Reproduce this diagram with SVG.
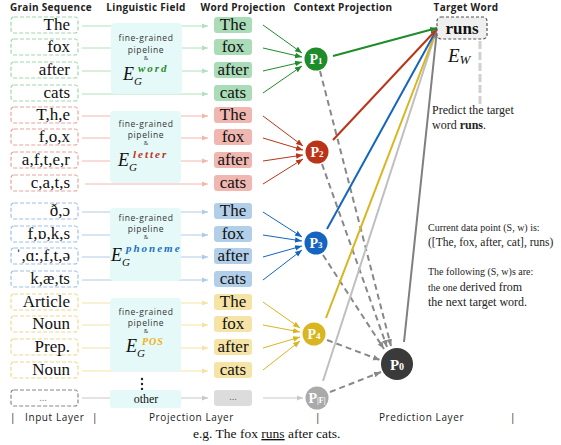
<svg xmlns="http://www.w3.org/2000/svg" width="561" height="445" viewBox="0 0 561 445">
<style>
.hdr{font-family:"Open Sans","DejaVu Sans",sans-serif;font-weight:700;font-size:10px;letter-spacing:0.3px;fill:#222;text-anchor:middle}
.lay{font-family:"Open Sans","DejaVu Sans",sans-serif;font-size:10px;letter-spacing:0.6px;fill:#222}
.gs{font-family:"Liberation Serif",serif;font-size:17px;fill:#111;text-anchor:end}
.wp{font-family:"Liberation Serif",serif;font-size:17px;fill:#111;text-anchor:middle}
.gb{fill:#fff;stroke-width:1.2;stroke-dasharray:4 2}
.wb{stroke:none}
.pan{fill:#e6f9f9}
.pt{font-family:"Open Sans","DejaVu Sans",sans-serif;font-size:8.5px;letter-spacing:0.6px;fill:#333;text-anchor:middle}
.amp{font-family:"Open Sans","DejaVu Sans",sans-serif;font-size:6px;fill:#333;text-anchor:middle}
.E{font-family:"Liberation Serif",serif;font-style:italic;font-size:18px;fill:#111}
.G{font-size:11px}
.sup{font-weight:700;font-size:11px;letter-spacing:2px}
.pl{font-family:"Liberation Serif",serif;font-weight:700;font-size:14px;fill:#fff;text-anchor:middle}
.ps{font-size:9px}
.note{font-family:"Liberation Serif",serif;fill:#222}
.thin{fill:none;stroke-width:1}
.thick{fill:none;stroke-width:2}
.dash{fill:none;stroke:#888;stroke-width:2;stroke-dasharray:6 4}
</style>
<defs>
<marker id="aLg" viewBox="0 0 10 10" refX="10" refY="5" markerWidth="6" markerHeight="6" markerUnits="userSpaceOnUse" orient="auto"><path d="M0,1 L10,5 L0,9 z" fill="#b4e0bd"/></marker>
<marker id="aLr" viewBox="0 0 10 10" refX="10" refY="5" markerWidth="6" markerHeight="6" markerUnits="userSpaceOnUse" orient="auto"><path d="M0,1 L10,5 L0,9 z" fill="#f2b8b0"/></marker>
<marker id="aLb" viewBox="0 0 10 10" refX="10" refY="5" markerWidth="6" markerHeight="6" markerUnits="userSpaceOnUse" orient="auto"><path d="M0,1 L10,5 L0,9 z" fill="#b0cbe8"/></marker>
<marker id="aLy" viewBox="0 0 10 10" refX="10" refY="5" markerWidth="6" markerHeight="6" markerUnits="userSpaceOnUse" orient="auto"><path d="M0,1 L10,5 L0,9 z" fill="#f5e3a5"/></marker>
<marker id="aLk" viewBox="0 0 10 10" refX="10" refY="5" markerWidth="6" markerHeight="6" markerUnits="userSpaceOnUse" orient="auto"><path d="M0,1 L10,5 L0,9 z" fill="#c8c8c8"/></marker>
<marker id="ag" viewBox="0 0 10 10" refX="10" refY="5" markerWidth="7" markerHeight="7" markerUnits="userSpaceOnUse" orient="auto"><path d="M0,1 L10,5 L0,9 z" fill="#1e8c2a"/></marker>
<marker id="ar" viewBox="0 0 10 10" refX="10" refY="5" markerWidth="7" markerHeight="7" markerUnits="userSpaceOnUse" orient="auto"><path d="M0,1 L10,5 L0,9 z" fill="#bb3418"/></marker>
<marker id="ab" viewBox="0 0 10 10" refX="10" refY="5" markerWidth="7" markerHeight="7" markerUnits="userSpaceOnUse" orient="auto"><path d="M0,1 L10,5 L0,9 z" fill="#1565c0"/></marker>
<marker id="ay" viewBox="0 0 10 10" refX="10" refY="5" markerWidth="7" markerHeight="7" markerUnits="userSpaceOnUse" orient="auto"><path d="M0,1 L10,5 L0,9 z" fill="#d9b51f"/></marker>
<marker id="ak" viewBox="0 0 10 10" refX="10" refY="5" markerWidth="7" markerHeight="7" markerUnits="userSpaceOnUse" orient="auto"><path d="M0,1 L10,5 L0,9 z" fill="#bfbfbf"/></marker>
<marker id="ad" viewBox="0 0 10 10" refX="10" refY="5" markerWidth="8" markerHeight="8" markerUnits="userSpaceOnUse" orient="auto"><path d="M0,1 L10,5 L0,9 z" fill="#7f7f7f"/></marker>
<marker id="adsh" viewBox="0 0 10 10" refX="10" refY="5" markerWidth="7" markerHeight="7" markerUnits="userSpaceOnUse" orient="auto"><path d="M0,1 L10,5 L0,9 z" fill="#888"/></marker>
</defs>

<g id="headers">
<text class="hdr" x="51" y="11">Grain Sequence</text>
<text class="hdr" x="146" y="11">Linguistic Field</text>
<text class="hdr" x="243" y="11">Word Projection</text>
<text class="hdr" x="343" y="11">Context Projection</text>
<text class="hdr" x="466" y="11">Target Word</text>
</g>

<g id="connectors">
<g class="thin" stroke="#b4e0bd" marker-end="url(#aLg)">
<line x1="82" y1="26" x2="208" y2="26"/><line x1="82" y1="48" x2="208" y2="48"/><line x1="82" y1="71" x2="208" y2="71"/><line x1="82" y1="94" x2="208" y2="94"/>
</g>
<g class="thin" stroke="#f2b8b0" marker-end="url(#aLr)">
<line x1="82" y1="116" x2="208" y2="116"/><line x1="82" y1="138" x2="208" y2="138"/><line x1="82" y1="161" x2="208" y2="161"/><line x1="85" y1="184" x2="208" y2="184"/>
</g>
<g class="thin" stroke="#b0cbe8" marker-end="url(#aLb)">
<line x1="82" y1="212" x2="208" y2="212"/><line x1="82" y1="235" x2="208" y2="235"/><line x1="82" y1="257" x2="208" y2="257"/><line x1="82" y1="280" x2="208" y2="280"/>
</g>
<g class="thin" stroke="#f5e3a5" marker-end="url(#aLy)">
<line x1="82" y1="303" x2="208" y2="303"/><line x1="82" y1="325" x2="208" y2="325"/><line x1="82" y1="348" x2="208" y2="348"/><line x1="82" y1="371" x2="208" y2="371"/>
</g>
<g class="thin" stroke="#c8c8c8" marker-end="url(#aLk)">
<line x1="82" y1="398" x2="208" y2="398"/>
</g>
<g class="thin" stroke="#1e8c2a" marker-end="url(#ag)">
<line x1="263" y1="25" x2="302" y2="53"/><line x1="263" y1="48" x2="302" y2="57"/><line x1="263" y1="71" x2="302" y2="62"/><line x1="263" y1="93" x2="302" y2="66"/>
</g>
<g class="thin" stroke="#bb3418" marker-end="url(#ar)">
<line x1="263" y1="116" x2="303" y2="146"/><line x1="263" y1="138" x2="303" y2="150"/><line x1="263" y1="161" x2="303" y2="155"/><line x1="263" y1="184" x2="303" y2="159"/>
</g>
<g class="thin" stroke="#1565c0" marker-end="url(#ab)">
<line x1="263" y1="212" x2="302" y2="237"/><line x1="263" y1="235" x2="302" y2="241"/><line x1="263" y1="257" x2="302" y2="246"/><line x1="263" y1="280" x2="302" y2="250"/>
</g>
<g class="thin" stroke="#d9b51f" marker-end="url(#ay)">
<line x1="263" y1="302" x2="300" y2="328"/><line x1="263" y1="325" x2="300" y2="332"/><line x1="263" y1="348" x2="300" y2="337"/><line x1="263" y1="370" x2="300" y2="341"/>
</g>
<line class="thin" stroke="#c8c8c8" x1="263" y1="398" x2="303" y2="398" marker-end="url(#aLk)"/>
<line class="dash" x1="320" y1="71" x2="391" y2="346" marker-end="url(#adsh)"/>
<line class="dash" x1="322" y1="164" x2="387" y2="347" marker-end="url(#adsh)"/>
<line class="dash" x1="323" y1="255" x2="384" y2="349" marker-end="url(#adsh)"/>
<line class="dash" x1="327" y1="340" x2="380" y2="360" marker-end="url(#adsh)"/>
<line class="dash" x1="330" y1="392" x2="381" y2="372" marker-end="url(#adsh)"/>
<line class="thick" stroke="#bfbfbf" x1="323" y1="381" x2="437" y2="29" marker-end="url(#ak)"/>
<line class="thick" stroke="#d9b51f" x1="326" y1="318" x2="437" y2="29" marker-end="url(#ay)"/>
<line class="thick" stroke="#1565c0" x1="327" y1="229" x2="437" y2="29" marker-end="url(#ab)"/>
<line class="thick" stroke="#bb3418" x1="333" y1="140" x2="437" y2="29" marker-end="url(#ar)"/>
<line class="thick" stroke="#1e8c2a" x1="333" y1="56" x2="437" y2="28" marker-end="url(#ag)"/>
<line class="thick" stroke="#7f7f7f" x1="404" y1="342" x2="437" y2="30" marker-end="url(#ad)"/>
<line x1="480" y1="41" x2="480" y2="104" stroke="#d0d0d0" stroke-width="3" stroke-dasharray="8 3"/>
</g>

<g id="grain-sequence">
<g stroke="#a0d8ac" class="gb">
<rect x="11" y="17" width="67" height="16" rx="3"/><rect x="11" y="39" width="67" height="16" rx="3"/><rect x="11" y="62" width="67" height="16" rx="3"/><rect x="11" y="85" width="67" height="16" rx="3"/>
</g>
<text class="gs" x="70" y="30">The</text><text class="gs" x="70" y="52">fox</text><text class="gs" x="70" y="75">after</text><text class="gs" x="70" y="98">cats</text>
<g stroke="#e8a59c" class="gb">
<rect x="11" y="107" width="67" height="16" rx="3"/><rect x="11" y="129" width="67" height="16" rx="3"/><rect x="11" y="152" width="67" height="16" rx="3"/><rect x="11" y="175" width="67" height="16" rx="3"/>
</g>
<text class="gs" x="70" y="120">T,h,e</text><text class="gs" x="70" y="142">f,o,x</text><text class="gs" x="70" y="165">a,f,t,e,r</text><text class="gs" x="70" y="188">c,a,t,s</text>
<g stroke="#9fc0e8" class="gb">
<rect x="11" y="203" width="67" height="16" rx="3"/><rect x="11" y="226" width="67" height="16" rx="3"/><rect x="11" y="248" width="67" height="16" rx="3"/><rect x="11" y="271" width="67" height="16" rx="3"/>
</g>
<text class="gs" x="70" y="216">ð,ɔ</text><text class="gs" x="70" y="239">f,ɒ,k,s</text><text class="gs" x="70" y="261">ˈ,ɑ:,f,t,ə</text><text class="gs" x="70" y="284">k,æ,ts</text>
<g stroke="#f0d890" class="gb">
<rect x="11" y="294" width="67" height="16" rx="3"/><rect x="11" y="316" width="67" height="16" rx="3"/><rect x="11" y="339" width="67" height="16" rx="3"/><rect x="11" y="362" width="67" height="16" rx="3"/>
</g>
<text class="gs" x="70" y="307">Article</text><text class="gs" x="70" y="329">Noun</text><text class="gs" x="70" y="352">Prep.</text><text class="gs" x="70" y="375">Noun</text>
<rect class="gb" stroke="#888" x="11" y="390" width="67" height="16" rx="3"/>
<text x="43" y="401" font-family="Liberation Serif, serif" font-size="10" fill="#888" text-anchor="middle">...</text>
</g>

<g id="linguistic-field">
<g id="field-word">
<rect class="pan" x="111" y="23" width="71" height="71" rx="4"/>
<text class="pt" x="146" y="41">fine-grained</text><text class="pt" x="146" y="53">pipeline</text><text class="amp" x="146" y="60">&amp;</text>
<text class="E" x="123" y="80">E<tspan class="G" dy="5">G</tspan><tspan class="sup" dx="-4" dy="-13" fill="#2a8a2a">word</tspan></text>
</g>
<g id="field-letter">
<rect class="pan" x="110" y="111" width="71" height="72" rx="4"/>
<text class="pt" x="146" y="127">fine-grained</text><text class="pt" x="146" y="138">pipeline</text><text class="amp" x="146" y="145">&amp;</text>
<text class="E" x="118" y="166">E<tspan class="G" dy="5">G</tspan><tspan class="sup" dx="-4" dy="-13" fill="#c03020">letter</tspan></text>
</g>
<g id="field-phoneme">
<rect class="pan" x="110" y="208" width="71" height="73" rx="4"/>
<text class="pt" x="146" y="221">fine-grained</text><text class="pt" x="146" y="232">pipeline</text><text class="amp" x="146" y="239">&amp;</text>
<text class="E" x="111" y="261">E<tspan class="G" dy="5">G</tspan><tspan class="sup" dx="-4" dy="-14" fill="#2070c0">phoneme</tspan></text>
</g>
<g id="field-pos">
<rect class="pan" x="110" y="298" width="71" height="74" rx="4"/>
<text class="pt" x="146" y="315">fine-grained</text><text class="pt" x="146" y="326">pipeline</text><text class="amp" x="146" y="333">&amp;</text>
<text class="E" x="126" y="352">E<tspan class="G" dy="5">G</tspan><tspan class="sup" dx="-3" dy="-12" fill="#f0b010" style="font-size:10px;letter-spacing:1px">POS</tspan></text>
</g>
<g id="vdots" fill="#222"><circle cx="142" cy="379" r="1.2"/><circle cx="142" cy="384" r="1.2"/><circle cx="142" cy="389" r="1.2"/></g>
<g id="field-other">
<rect class="pan" x="110" y="390" width="71" height="18" rx="2"/>
<text x="146" y="403" font-family="Liberation Serif, serif" font-size="12" fill="#111" text-anchor="middle">other</text>
</g>
</g>

<g id="word-projection">
<g class="wb" fill="#abdcb8">
<rect x="214" y="17" width="38" height="16" rx="3"/><rect x="214" y="39" width="38" height="16" rx="3"/><rect x="214" y="62" width="38" height="16" rx="3"/><rect x="214" y="85" width="38" height="16" rx="3"/>
</g>
<g class="wb" fill="#f0b7b0">
<rect x="214" y="107" width="38" height="16" rx="3"/><rect x="214" y="129" width="38" height="16" rx="3"/><rect x="214" y="152" width="38" height="16" rx="3"/><rect x="214" y="175" width="38" height="16" rx="3"/>
</g>
<g class="wb" fill="#b2cfea">
<rect x="214" y="203" width="38" height="16" rx="3"/><rect x="214" y="226" width="38" height="16" rx="3"/><rect x="214" y="248" width="38" height="16" rx="3"/><rect x="214" y="271" width="38" height="16" rx="3"/>
</g>
<g class="wb" fill="#f6e3a6">
<rect x="214" y="294" width="38" height="16" rx="3"/><rect x="214" y="316" width="38" height="16" rx="3"/><rect x="214" y="339" width="38" height="16" rx="3"/><rect x="214" y="362" width="38" height="16" rx="3"/>
</g>
<rect class="wb" fill="#dcdcdc" x="214" y="390" width="38" height="16" rx="3"/>
<text class="wp" x="233" y="30">The</text><text class="wp" x="233" y="52">fox</text><text class="wp" x="233" y="75">after</text><text class="wp" x="233" y="98">cats</text>
<text class="wp" x="233" y="120">The</text><text class="wp" x="233" y="142">fox</text><text class="wp" x="233" y="165">after</text><text class="wp" x="233" y="188">cats</text>
<text class="wp" x="233" y="216">The</text><text class="wp" x="233" y="239">fox</text><text class="wp" x="233" y="261">after</text><text class="wp" x="233" y="284">cats</text>
<text class="wp" x="233" y="307">The</text><text class="wp" x="233" y="329">fox</text><text class="wp" x="233" y="352">after</text><text class="wp" x="233" y="375">cats</text>
<text x="233" y="400" font-family="Liberation Serif, serif" font-size="10" fill="#666" text-anchor="middle">...</text>
</g>

<g id="context-projection">
<g id="P1"><circle cx="316" cy="59" r="11.5" fill="#1e8c2a"/><text class="pl" x="316" y="64">P<tspan class="ps">1</tspan></text></g>
<g id="P2"><circle cx="317" cy="152" r="11.5" fill="#bb3418"/><text class="pl" x="317" y="157">P<tspan class="ps">2</tspan></text></g>
<g id="P3"><circle cx="316" cy="243" r="11.5" fill="#1565c0"/><text class="pl" x="316" y="248">P<tspan class="ps">3</tspan></text></g>
<g id="P4"><circle cx="314" cy="334" r="11.5" fill="#d9b51f"/><text class="pl" x="314" y="339">P<tspan class="ps">4</tspan></text></g>
<g id="PF"><circle cx="317" cy="398" r="11.5" fill="#aaaaaa"/><text class="pl" x="317" y="403">P<tspan style="font-size:8px">|F|</tspan></text></g>
</g>

<g id="P0"><circle cx="397" cy="364" r="16" fill="#3a3a3a"/><text class="pl" x="397" y="370" style="font-size:15px">P<tspan style="font-size:10px">0</tspan></text></g>

<g id="target-word">
<rect x="437" y="17" width="50" height="22" rx="4" fill="#efefef" stroke="#555" stroke-width="1.2" stroke-dasharray="3 2"/>
<text x="462" y="34" font-family="Liberation Serif, serif" font-weight="700" font-size="17" fill="#111" text-anchor="middle">runs</text>
<text x="448" y="62" font-family="Liberation Serif, serif" font-style="italic" font-size="19" fill="#111">E<tspan font-size="13" dy="2">W</tspan></text>
</g>

<g id="notes">
<text class="note" x="432" y="114" font-size="12">Predict the target</text>
<text class="note" x="432" y="129" font-size="12">word <tspan font-weight="700">runs</tspan>.</text>
<text class="note" x="428" y="231" font-size="10">Current data point (S, w) is:</text>
<text class="note" x="428" y="246" font-size="11.5">([The, fox, after, cat], runs)</text>
<text class="note" x="428" y="275" font-size="10">The following (S, w)s are:</text>
<text class="note" x="428" y="291" font-size="10">the one <tspan font-size="12">derived from</tspan></text>
<text class="note" x="428" y="306" font-size="12">the next target word.</text>
</g>

<g id="layers">
<text class="lay" x="10" y="421">|</text><text class="lay" x="25" y="421">Input Layer</text><text class="lay" x="92" y="421">|</text>
<text class="lay" x="149" y="421">Projection Layer</text>
<text class="lay" x="315" y="421">|</text>
<text class="lay" x="379" y="421">Prediction Layer</text>
<text class="lay" x="510" y="421">|</text>
</g>

<text x="193" y="438" font-family="Liberation Serif, serif" font-size="13.5" fill="#111">e.g. The fox <tspan text-decoration="underline">runs</tspan> after cats.</text>
</svg>
